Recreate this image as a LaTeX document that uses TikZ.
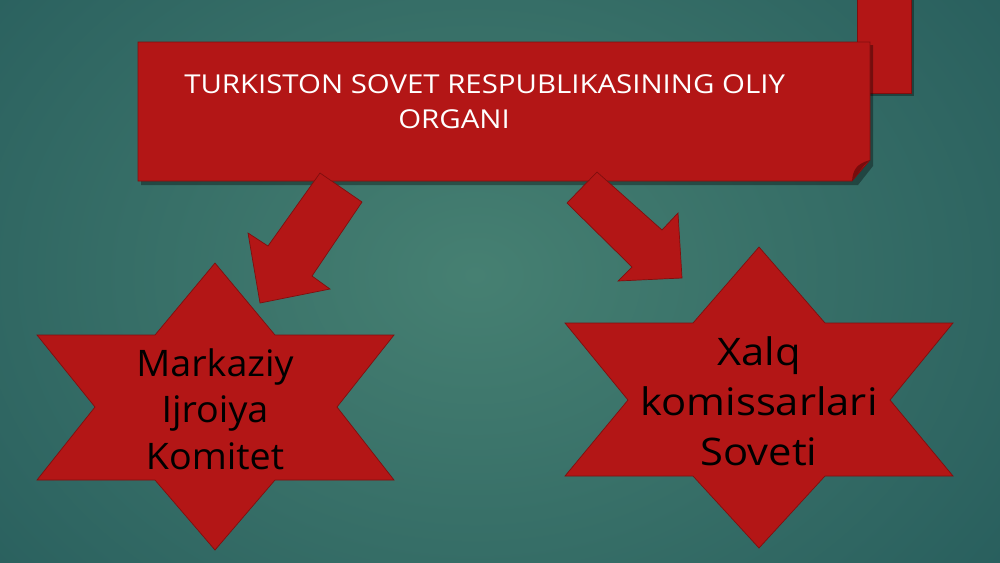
\documentclass[tikz,border=0pt]{standalone}
\usepackage{fontspec}
\setmainfont{Open Sans}
\newfontfamily\bannerfont[FakeStretch=1.13]{Open Sans}
\newfontfamily\starafont[FakeStretch=1.03]{Open Sans}
\newfontfamily\starbfont[FakeStretch=1.10]{Open Sans}
\definecolor{redfill}{RGB}{179,22,22}
\definecolor{redline}{RGB}{128,14,14}
\definecolor{redfold}{RGB}{120,12,12}
\definecolor{bgA}{RGB}{70,128,114}
\definecolor{bgB}{RGB}{40,94,93}
\definecolor{bgC}{RGB}{30,74,86}
\definecolor{bgD}{RGB}{23,62,77}
\pgfdeclareradialshading{bgshade}{\pgfpoint{0bp}{0bp}}{color(0bp)=(bgA); color(23bp)=(bgB); color(33bp)=(bgC); color(40bp)=(bgD); color(50bp)=(bgD)}
\begin{document}
\begin{tikzpicture}[x=0.025cm,y=-0.025cm,
  redshape/.style={fill=redfill,draw=redline,line width=0.5pt,line join=miter},
  shadowshape/.style={fill=black,opacity=0.35},
  bannertext/.style={font=\bannerfont\fontsize{18.5}{22}\selectfont,text=white,inner sep=0pt,anchor=base west},
  startext/.style={text=black,align=center,inner sep=0pt}]
\useasboundingbox (0,0) rectangle (1000,562);
% background
\begin{scope}
\clip (0,0) rectangle (1000,562);
\fill[bgD] (0,0) rectangle (1000,562);
\shade[shading=bgshade] (475,275) ellipse [x radius=720, y radius=560];
\end{scope}
% top-right bar
\fill[shadowshape] (860,0) rectangle (914,96);
\draw[redshape] (857,-2) rectangle (911,93);
% banner
\fill[shadowshape] (141,45) -- (873,45) -- (873,166) -- (858,185) -- (141,185) -- cycle;
\draw[redshape] (138,42) -- (870,42) -- (870,160) -- (852,181) -- (138,181) -- cycle;
\fill[redfold] (852,181) .. controls (853,170) and (856,164) .. (870,160) .. controls (862,166) and (860,172) .. (852,181) -- cycle;
\node[bannertext] (t1) at (184,93) {TURKISTON SOVET RESPUBLIKASINING OLIY};
\node[bannertext] (t2) at (398,128) {ORGANI};
% arrows
\draw[redshape] (320,173) -- (362,202) -- (312,276) -- (330,289) -- (260,303) -- (248,233) -- (268,246) -- cycle;
\draw[redshape] (597,172) -- (567,203) -- (632,267) -- (618,281) -- (682,278) -- (678,213) -- (662,230) -- cycle;
% star 1
\draw[redshape] (215,263) -- (275,335) -- (394,335) -- (337,407) -- (394,480) -- (275,480) -- (215,550) -- (155,480) -- (37,480) -- (95,407) -- (37,335) -- (155,335) -- cycle;
\node[startext,font=\starafont\fontsize{26}{33}\selectfont] (s1) at (215,409) {Markaziy\\Ijroiya\\Komitet};
% star 2
\draw[redshape] (759,247) -- (825,323) -- (953,323) -- (890,400) -- (953,476) -- (825,476) -- (759,548) -- (693,476) -- (565,476) -- (628,400) -- (565,323) -- (693,323) -- cycle;
\node[startext,font=\starbfont\fontsize{27}{35.5}\selectfont] (s2) at (759,401) {Xalq\\komissarlari\\Soveti};
\end{tikzpicture}
\end{document}
